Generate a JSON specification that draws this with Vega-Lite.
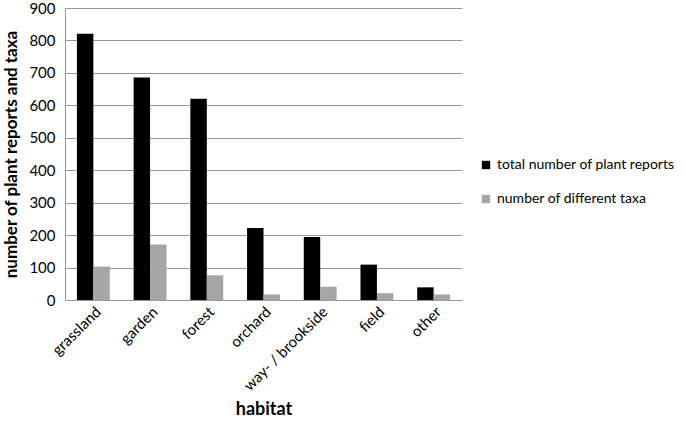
{
  "$schema": "https://vega.github.io/schema/vega-lite/v6.json",
  "width": 397,
  "height": 292,
  "autosize": "none",
  "padding": {"left": 65, "top": 8, "right": 223, "bottom": 140},
  "background": "white",
  "config": {
    "font": "Lato",
    "view": {"stroke": null},
    "axis": {"labelFont": "Lato", "titleFont": "Lato", "labelColor": "#000", "titleColor": "#000"}
  },
  "data": {
    "values": [
      {"habitat": "grassland", "series": "total number of plant reports", "value": 821},
      {"habitat": "grassland", "series": "number of different taxa", "value": 103},
      {"habitat": "garden", "series": "total number of plant reports", "value": 686},
      {"habitat": "garden", "series": "number of different taxa", "value": 171},
      {"habitat": "forest", "series": "total number of plant reports", "value": 620},
      {"habitat": "forest", "series": "number of different taxa", "value": 76},
      {"habitat": "orchard", "series": "total number of plant reports", "value": 222},
      {"habitat": "orchard", "series": "number of different taxa", "value": 17},
      {"habitat": "way- / brookside", "series": "total number of plant reports", "value": 194},
      {"habitat": "way- / brookside", "series": "number of different taxa", "value": 41},
      {"habitat": "field", "series": "total number of plant reports", "value": 109},
      {"habitat": "field", "series": "number of different taxa", "value": 21},
      {"habitat": "other", "series": "total number of plant reports", "value": 39},
      {"habitat": "other", "series": "number of different taxa", "value": 17}
    ]
  },
  "mark": {"type": "bar"},
  "encoding": {
    "x": {
      "field": "habitat",
      "type": "nominal",
      "sort": ["grassland", "garden", "forest", "orchard", "way- / brookside", "field", "other"],
      "scale": {"paddingInner": 0.42, "paddingOuter": 0.21},
      "axis": {
        "title": "habitat",
        "titleFontSize": 18,
        "titleFontWeight": "bold",
        "titleY": 100,
        "labelAngle": -45,
        "labelFontSize": 15,
        "labelLimit": 0,
        "ticks": false,
        "labelPadding": 4,
        "domainColor": "#999999"
      }
    },
    "xOffset": {
      "field": "series",
      "type": "nominal",
      "sort": ["total number of plant reports", "number of different taxa"],
      "scale": {"paddingInner": 0}
    },
    "y": {
      "field": "value",
      "type": "quantitative",
      "scale": {"domain": [0, 900]},
      "axis": {
        "title": "number of plant reports and taxa",
        "titleFontSize": 17,
        "titleFontWeight": "bold",
        "titlePadding": 8,
        "values": [0, 100, 200, 300, 400, 500, 600, 700, 800, 900],
        "labelFontSize": 15,
        "ticks": false,
        "labelPadding": 10,
        "gridColor": "#999999",
        "gridWidth": 1,
        "domainColor": "#999999"
      }
    },
    "color": {
      "field": "series",
      "type": "nominal",
      "sort": ["total number of plant reports", "number of different taxa"],
      "scale": {"range": ["#000000", "#a6a6a6"]},
      "legend": {
        "title": null,
        "orient": "none",
        "legendX": 414,
        "legendY": 150,
        "symbolType": "square",
        "symbolSize": 70,
        "symbolStrokeWidth": 0,
        "labelFontSize": 14,
        "labelLimit": 0,
        "labelColor": "#000",
        "rowPadding": 20,
        "labelOffset": 4
      }
    }
  }
}
